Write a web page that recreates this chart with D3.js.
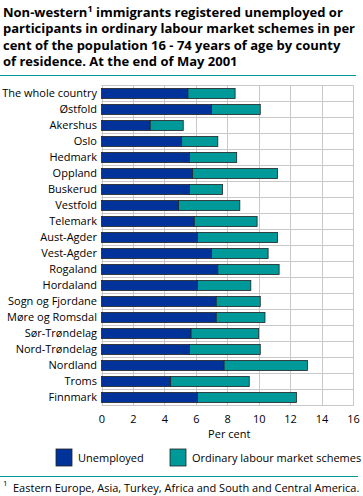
<!DOCTYPE html>
<html lang="en">
<meta charset="UTF-8">
<title>Non-western immigrants unemployed by county</title>
<script src="https://cdn.jsdelivr.net/npm/d3@7"></script>
<style>
body { margin: 0; background: #fff; }
svg text { font-family: "Open Sans", "DejaVu Sans", sans-serif; fill: #000; }
.title { font-size: 13px; font-weight: bold; }
.lbl { font-size: 11px; }
.grid line { stroke: #c8c8c8; stroke-width: 1; }
</style>
<body>
<svg width="363" height="496"></svg>
<script>
// counties, top to bottom
const counties = ["The whole country", "Østfold", "Akershus", "Oslo", "Hedmark", "Oppland",
  "Buskerud", "Vestfold", "Telemark", "Aust-Agder", "Vest-Agder", "Rogaland", "Hordaland",
  "Sogn og Fjordane", "Møre og Romsdal", "Sør-Trøndelag", "Nord-Trøndelag", "Nordland",
  "Troms", "Finnmark"];
// per cent unemployed
const unemployed = [5.5, 7.0, 3.1, 5.1, 5.6, 5.8, 5.6, 4.9, 5.9, 6.1, 7.0, 7.4, 6.1, 7.3, 7.3, 5.7, 5.6, 7.8, 4.4, 6.1];
// per cent in ordinary labour market schemes
const schemes = [3.0, 3.1, 2.1, 2.3, 3.0, 5.4, 2.1, 3.9, 4.0, 5.1, 3.6, 3.9, 3.4, 2.8, 3.1, 4.3, 4.5, 5.3, 5.0, 6.3];
const xTicks = [0, 2, 4, 6, 8, 10, 12, 14, 16];
const seriesNames = ["Unemployed", "Ordinary labour market schemes"];
const colors = ["#003399", "#009999"];

const svg = d3.select("svg");

// title
const titleLines = [
  ["Non-western", "1", " immigrants registered unemployed or"],
  ["participants in ordinary labour market schemes in per"],
  ["cent of the population 16 - 74 years of age by county"],
  ["of residence. At the end of May 2001"]
];
titleLines.forEach((parts, i) => {
  const t = svg.append("text").attr("class", "title").attr("x", 3).attr("y", 17 + i * 16.3);
  if (parts.length === 1) { t.text(parts[0]); return; }
  t.append("tspan").text(parts[0]);
  t.append("tspan").attr("dy", -5).attr("font-size", 9).text(parts[1]);
  t.append("tspan").attr("dy", 5).text(parts[2]);
});
svg.append("line").attr("x1", 0).attr("x2", 356).attr("y1", 75.5).attr("y2", 75.5)
  .attr("stroke", "#009999").attr("stroke-width", 1);

const x = d3.scaleLinear().domain([0, 16]).range([101.5, 353]);
const y = d3.scaleBand().domain(counties).range([85.5, 405.5]).paddingInner(0.37).paddingOuter(0.185);
const rowY = d3.scaleBand().domain(counties).range([85.5, 405.5]);

// grid
const grid = svg.append("g").attr("class", "grid");
grid.selectAll("line.v").data(xTicks).join("line").attr("class", "v")
  .attr("x1", d => Math.round(x(d)) + 0.5).attr("x2", d => Math.round(x(d)) + 0.5)
  .attr("y1", 85.5).attr("y2", 405.5);
grid.selectAll("line.h").data(counties.concat(["__end"])).join("line").attr("class", "h")
  .attr("x1", x(0)).attr("x2", Math.round(x(16)) + 0.5)
  .attr("y1", (d, i) => i < counties.length ? rowY(d) : 405.5)
  .attr("y2", (d, i) => i < counties.length ? rowY(d) : 405.5);

// bars
const rows = counties.map((c, i) => ({ c, u: unemployed[i], s: schemes[i] }));
const barsG = svg.append("g");
barsG.selectAll("rect.u").data(rows).join("rect").attr("class", "u")
  .attr("x", x(0)).attr("y", d => y(d.c)).attr("height", y.bandwidth())
  .attr("width", d => x(d.u) - x(0))
  .attr("fill", colors[0]).attr("stroke", "#222").attr("stroke-width", 0.8);
barsG.selectAll("rect.s").data(rows).join("rect").attr("class", "s")
  .attr("x", d => x(d.u)).attr("y", d => y(d.c)).attr("height", y.bandwidth())
  .attr("width", d => x(d.u + d.s) - x(d.u))
  .attr("fill", colors[1]).attr("stroke", "#222").attr("stroke-width", 0.8);

// county labels
svg.append("g").selectAll("text").data(counties).join("text").attr("class", "lbl")
  .attr("x", 97).attr("y", d => rowY(d) + rowY.bandwidth() / 2).attr("dy", "0.35em")
  .attr("text-anchor", "end").text(d => d);

// x axis
const xAxis = svg.append("g").attr("transform", "translate(0,405.5)")
  .call(d3.axisBottom(x).tickValues(xTicks).tickSize(0).tickPadding(10));
xAxis.select(".domain").remove();
xAxis.selectAll("text").attr("class", "lbl").attr("font-size", null).attr("font-family", null);
svg.append("text").attr("class", "lbl").attr("x", x(8) + 2).attr("y", 438)
  .attr("text-anchor", "middle").text("Per cent");

// legend
const legX = [56, 170];
seriesNames.forEach((n, i) => {
  svg.append("rect").attr("x", legX[i]).attr("y", 449).attr("width", 16).attr("height", 17)
    .attr("fill", colors[i]).attr("stroke", "#222").attr("stroke-width", 0.8);
  svg.append("text").attr("class", "lbl").attr("x", legX[i] + 22).attr("y", 458)
    .attr("dy", "0.35em").text(n);
});

svg.append("line").attr("x1", 0).attr("x2", 358).attr("y1", 476.5).attr("y2", 476.5)
  .attr("stroke", "#009999").attr("stroke-width", 1);
svg.append("text").attr("x", 3).attr("y", 486).attr("font-size", 8).text("1");
svg.append("text").attr("class", "lbl").attr("font-size", 10).attr("x", 13).attr("y", 492)
  .text("Eastern Europe, Asia, Turkey, Africa and South and Central America.");
</script>
</body>
</html>
